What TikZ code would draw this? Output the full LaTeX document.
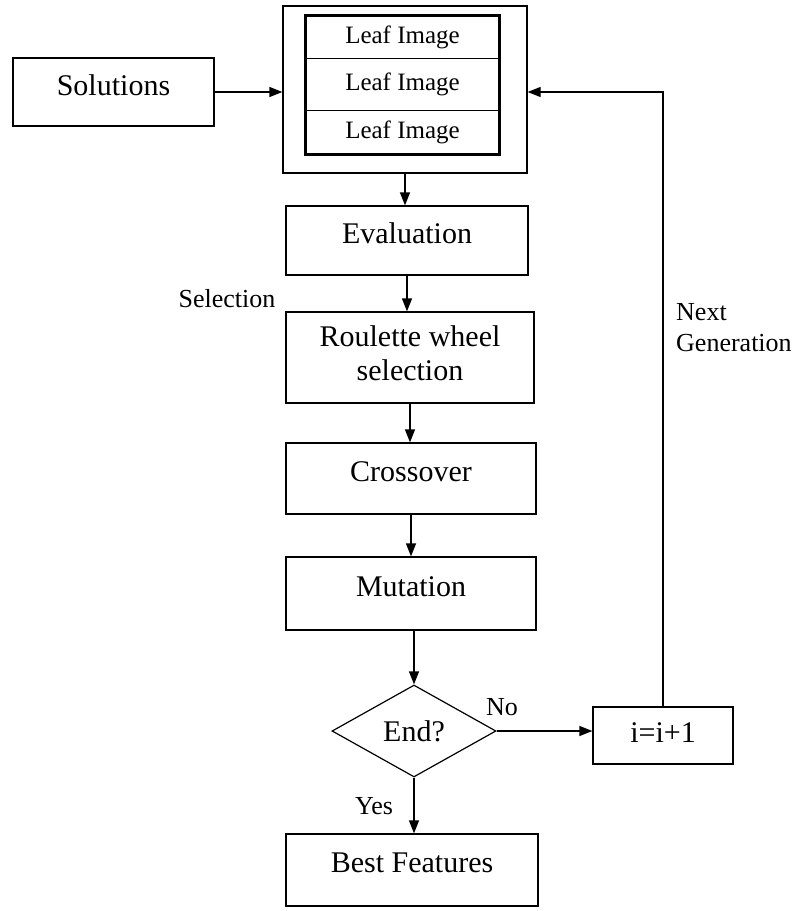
\documentclass[tikz,border=0pt]{standalone}
\usepackage{fontspec}
\setmainfont{Liberation Serif}
\usetikzlibrary{arrows.meta,shapes.geometric}

\tikzset{
  box/.style={draw, line width=1.2pt, inner sep=0pt, text depth=14pt,
    font=\fontsize{30}{34}\selectfont, align=center},
  leaf/.style={draw, line width=1pt, inner sep=0pt, minimum width=193,
    font=\fontsize{25}{28}\selectfont},
  lbl/.style={font=\fontsize{26}{31}\selectfont, inner sep=0pt},
  arr/.style={line width=1.2pt, -{Triangle[length=13pt,width=10pt]}}
}

\begin{document}
\begin{tikzpicture}[x=1pt,y=-1pt]
		\useasboundingbox (0,0) rectangle (795,911);
		% leaf images
		\node[draw, line width=1.2pt, minimum width=244, minimum height=167] (pool) at (405,89.5) {};
		\node[leaf, minimum height=42] (leafa) at (402.5,37) {Leaf Image};
		\node[leaf, minimum height=52] (leafb) at (402.5,84) {Leaf Image};
		\node[leaf, minimum height=44] (leafc) at (402.5,132) {Leaf Image};
		\draw[line width=2.2pt] (leafa.north west) rectangle (leafc.south east);
		% steps
		\node[box, minimum width=201, minimum height=68] (sol) at (113.5,92) {Solutions};
		\node[box, minimum width=242, minimum height=69] (eval) at (407,240.5) {Evaluation};
		\node[box, minimum width=248, minimum height=91, text depth=8pt] (rws) at (410,357.5) {Roulette wheel\\selection};
		\node[box, minimum width=250, minimum height=71] (cross) at (411,478.5) {Crossover};
		\node[box, minimum width=250, minimum height=73] (mut) at (411,593.5) {Mutation};
		\node[box, diamond, text depth=0pt, minimum width=164, minimum height=92] (stop) at (414,731) {End?};
		\node[box, minimum width=140, minimum height=57, text depth=6pt] (incr) at (663,735.5) {i=i+1};
		\node[box, minimum width=252, minimum height=72] (best) at (412,870) {Best Features};
		% labels
		\node[lbl] (sel) at (227,299) {Selection};
		\node[lbl, align=left, anchor=west] (nextgen) at (676,328) {Next\\Generation};
		\node[lbl] (no) at (502,707) {No};
		\node[lbl] (yes) at (374,806) {Yes};
		% arrows
		\draw[arr] (sol.east) -- (sol.east -| pool.west);
		\draw[arr] (pool.south) -- (pool.south |- eval.north);
		\draw[arr] (eval.south) -- (eval.south |- rws.north);
		\draw[arr] (rws.south) -- (rws.south |- cross.north);
		\draw[arr] (cross.south) -- (cross.south |- mut.north);
		\draw[arr] (stop.north |- mut.south) -- (stop.north);
		\draw[arr] (stop.south) -- (stop.south |- best.north);
		\draw[arr] (stop.east) -- (stop.east -| incr.west);
		\draw[arr] (incr.north) |- ([yshift=-2.5pt]pool.east);
\end{tikzpicture}
\end{document}
